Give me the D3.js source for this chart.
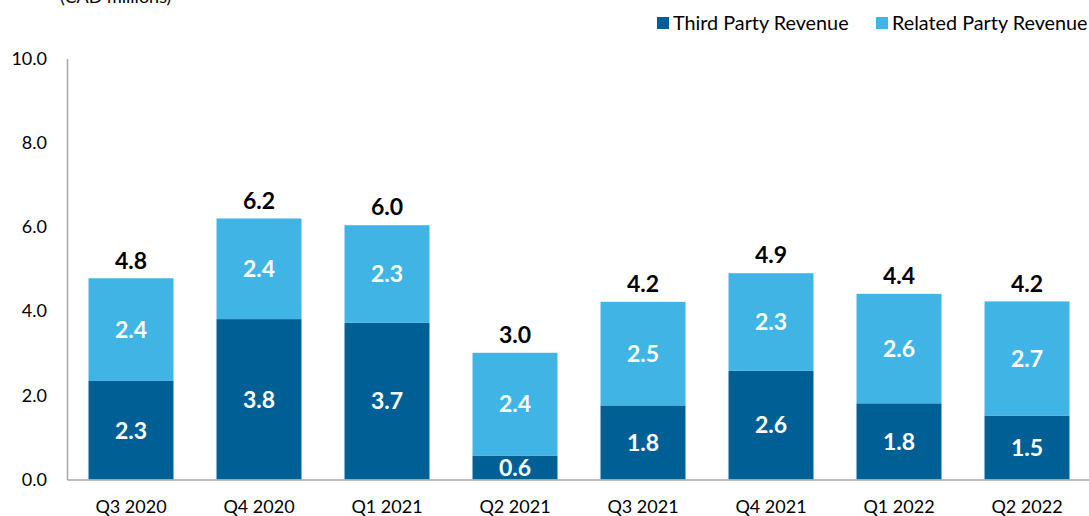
<!DOCTYPE html>
<html>
<head>
<meta charset="utf-8">
<script src="https://cdn.jsdelivr.net/npm/d3@7"></script>
<style>
  html, body { margin: 0; padding: 0; background: #ffffff; }
  svg { display: block; font-family: Lato, "Open Sans", sans-serif; }
</style>
</head>
<body>
<svg id="chart" width="1089" height="516"></svg>
<script>
// Quarterly revenue, CAD millions
const quarters = ["Q3 2020", "Q4 2020", "Q1 2021", "Q2 2021", "Q3 2021", "Q4 2021", "Q1 2022", "Q2 2022"];
const thirdParty = [2.34, 3.81, 3.72, 0.57, 1.76, 2.58, 1.81, 1.52];
const relatedParty = [2.44, 2.39, 2.32, 2.44, 2.46, 2.32, 2.60, 2.71];
const yTicks = [0, 2, 4, 6, 8, 10];
const seriesNames = ["Third Party Revenue", "Related Party Revenue"];
const colors = ["#006096", "#41B4E6"];

const rows = quarters.map((q, i) => ({ quarter: q, third: thirdParty[i], related: relatedParty[i] }));
const stack = d3.stack().keys(["third", "related"])(rows);

const svg = d3.select("#chart");
const x0 = 67, x1 = 1091, yBase = 479.5, yTop = 58.5;

const x = d3.scaleBand().domain(quarters).range([x0, x1]).paddingInner(0.336).paddingOuter(0.168);
const y = d3.scaleLinear().domain([0, 10]).range([yBase, yTop]);
const fmt = d3.format(".1f");

// Stacked bars
stack.forEach((layer, li) => {
  svg.append("g").selectAll("rect").data(layer).join("rect")
    .attr("x", d => x(d.data.quarter))
    .attr("width", x.bandwidth())
    .attr("y", d => y(d[1]))
    .attr("height", d => y(d[0]) - y(d[1]))
    .attr("fill", colors[li]);

  // Segment values
  svg.append("g").selectAll("text").data(layer).join("text")
    .attr("x", d => x(d.data.quarter) + x.bandwidth() / 2)
    .attr("y", d => (y(d[0]) + y(d[1])) / 2)
    .attr("dy", "0.36em")
    .attr("text-anchor", "middle")
    .attr("fill", "#ffffff")
    .attr("font-weight", "bold")
    .attr("font-size", 23)
    .text(d => fmt(d[1] - d[0]));
});

// Totals above bars
const topLayer = stack[stack.length - 1];
svg.append("g").selectAll("text").data(topLayer).join("text")
  .attr("x", d => x(d.data.quarter) + x.bandwidth() / 2)
  .attr("y", d => y(d[1]) - 18)
  .attr("dy", "0.36em")
  .attr("text-anchor", "middle")
  .attr("fill", "#000000")
  .attr("font-weight", "bold")
  .attr("font-size", 23)
  .text(d => fmt(d[1]));

// Y axis
const yAxis = svg.append("g").attr("transform", `translate(${x0},0)`)
  .call(d3.axisLeft(y).tickValues(yTicks).tickFormat(fmt).tickSize(0).tickPadding(20));
yAxis.select(".domain").attr("stroke", "#A6A6A6").attr("stroke-width", 1.5);
yAxis.selectAll("text").attr("font-size", 18).attr("fill", "#000").attr("font-family", "Lato, sans-serif");

// X axis
const xAxis = svg.append("g").attr("transform", `translate(0,${yBase})`)
  .call(d3.axisBottom(x).tickSize(0).tickPadding(21));
xAxis.select(".domain").attr("stroke", "#A6A6A6").attr("stroke-width", 1.5);
xAxis.selectAll("text").attr("font-size", 18).attr("fill", "#000").attr("font-family", "Lato, sans-serif");

// Unit label
svg.append("text")
  .attr("x", 60).attr("y", 3)
  .attr("font-size", 18)
  .attr("fill", "#000")
  .text("(CAD millions)");

// Legend
const legendX = [657, 876];
const legend = svg.append("g").selectAll("g").data(seriesNames).join("g")
  .attr("transform", (d, i) => `translate(${legendX[i]},17)`);
legend.append("rect").attr("width", 12).attr("height", 12).attr("fill", (d, i) => colors[i]);
legend.append("text").attr("x", 16).attr("y", 6).attr("dy", "0.36em")
  .attr("font-size", 19.8).attr("fill", "#000").text(d => d);
</script>
</body>
</html>
